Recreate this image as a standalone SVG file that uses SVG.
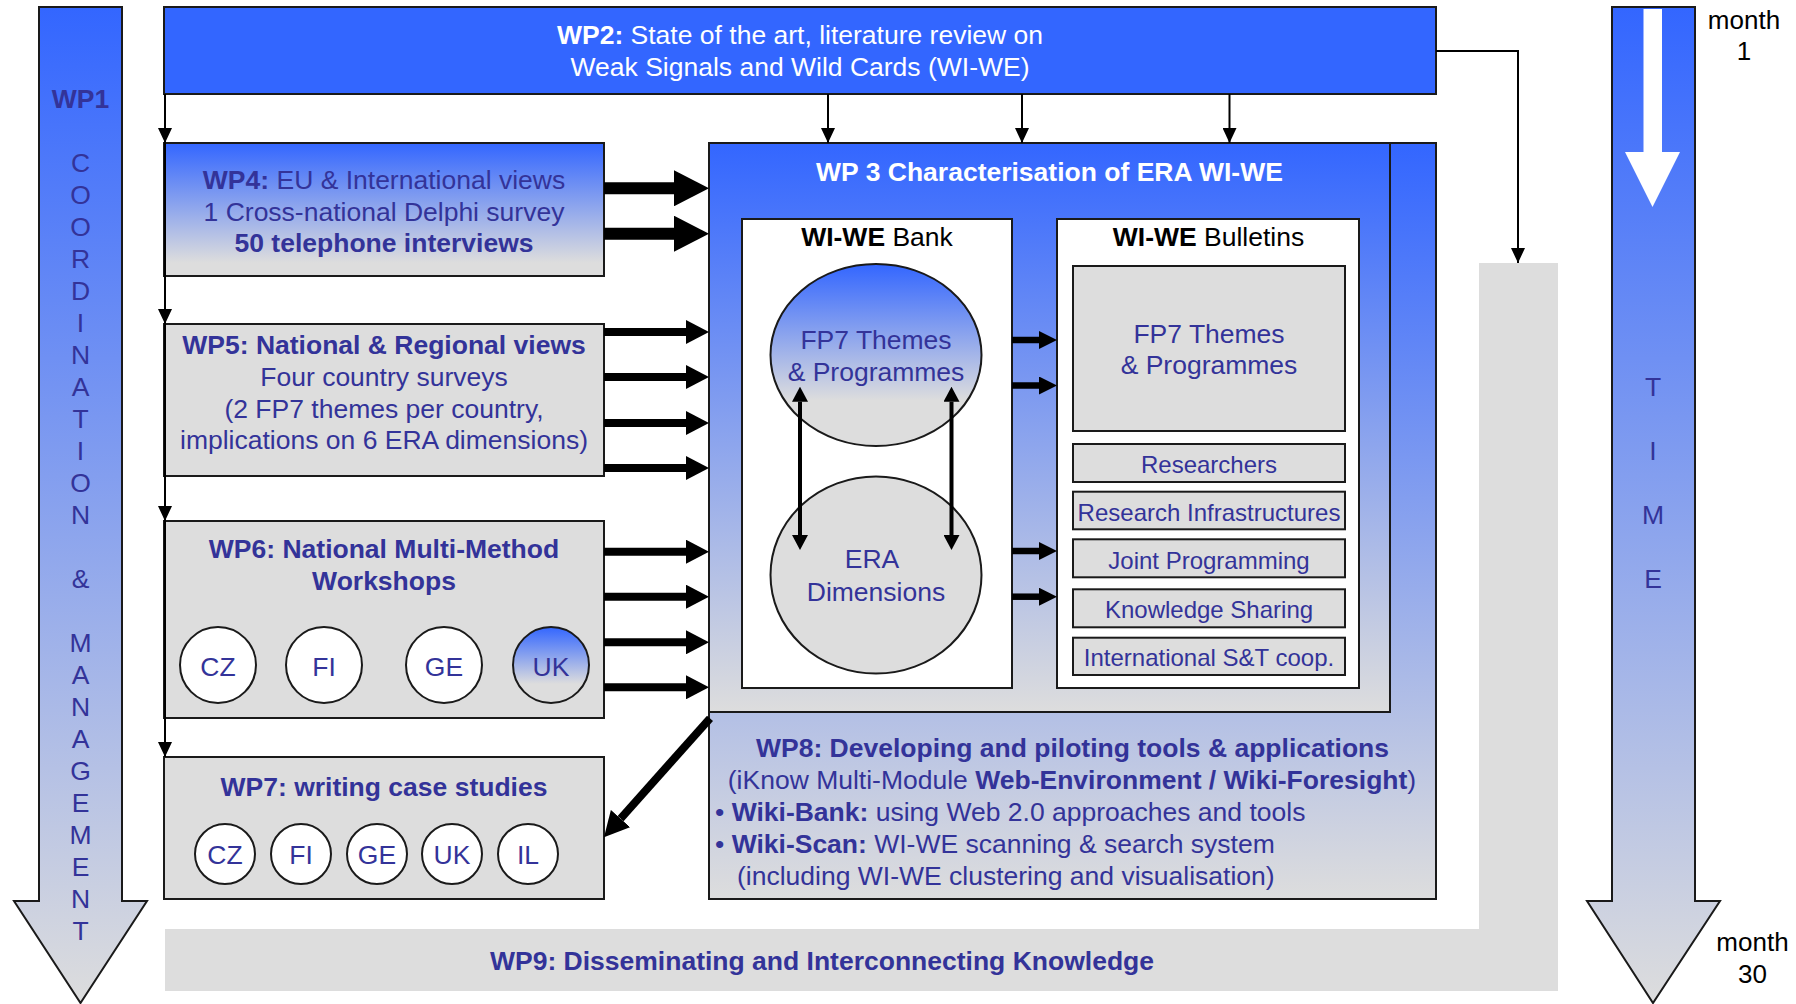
<svg xmlns="http://www.w3.org/2000/svg" width="1796" height="1004" viewBox="0 0 1796 1004">
<style>
.t{font-family:"Liberation Sans",Arial,sans-serif;font-size:26.5px;fill:#333399;text-anchor:middle}
.s{font-size:24px}
.l{text-anchor:start}
.b{font-weight:bold}
.w{fill:#ffffff}
.k{fill:#000000}
.box{stroke:#1a1a1a;stroke-width:2}
.grey{fill:#DDDDDD}
.thin{stroke:#000;stroke-width:2;fill:none}
</style>
<defs>
<linearGradient id="gTall" gradientUnits="userSpaceOnUse" x1="0" y1="7" x2="0" y2="1003">
<stop offset="0" stop-color="#3366FF"/><stop offset="1" stop-color="#DDDDDD"/>
</linearGradient>
<linearGradient id="gBox" x1="0" y1="0" x2="0" y2="1">
<stop offset="0" stop-color="#3366FF"/><stop offset="0.9" stop-color="#DDDDDD"/>
</linearGradient>
<linearGradient id="gBig" x1="0" y1="0" x2="0" y2="1">
<stop offset="0" stop-color="#3366FF"/><stop offset="1" stop-color="#DDDDDD"/>
</linearGradient>
<linearGradient id="gOval" x1="0" y1="0" x2="0" y2="1">
<stop offset="0" stop-color="#3366FF"/><stop offset="0.75" stop-color="#DDDDDD"/>
</linearGradient>
<marker id="ah" markerUnits="userSpaceOnUse" markerWidth="15" markerHeight="14" viewBox="0 0 15 14" refX="15" refY="7" orient="auto">
<path d="M0,0 L15,7 L0,14 Z" fill="#000"/>
</marker>
<marker id="big" markerUnits="userSpaceOnUse" markerWidth="35" markerHeight="36" viewBox="0 0 35 36" refX="0" refY="18" orient="auto">
<path d="M0,0 L35,18 L0,36 Z" fill="#000"/>
</marker>
<marker id="med" markerUnits="userSpaceOnUse" markerWidth="23" markerHeight="24" viewBox="0 0 23 24" refX="0" refY="12" orient="auto">
<path d="M0,0 L23,12 L0,24 Z" fill="#000"/>
</marker>
<marker id="sm" markerUnits="userSpaceOnUse" markerWidth="18" markerHeight="18" viewBox="0 0 18 18" refX="0" refY="9" orient="auto">
<path d="M0,0 L18,9 L0,18 Z" fill="#000"/>
</marker>
<marker id="dbl" markerUnits="userSpaceOnUse" markerWidth="15" markerHeight="16" viewBox="0 0 15 16" refX="0" refY="8" orient="auto-start-reverse">
<path d="M0,0 L15,8 L0,16 Z" fill="#000"/>
</marker>
<marker id="diag" markerUnits="userSpaceOnUse" markerWidth="25" markerHeight="26" viewBox="0 0 25 26" refX="0" refY="13" orient="auto">
<path d="M0,0 L25,13 L0,26 Z" fill="#000"/>
</marker>
</defs>

<rect width="1796" height="1004" fill="#ffffff"/>

<g id="wp9">
<path class="grey" d="M165,929 H1479 V263 H1558 V991 H165 Z"/>
<text class="t b" x="822" y="970">WP9: Disseminating and Interconnecting Knowledge</text>
</g>

<g id="wp1">
<polygon points="39,7 122,7 122,901 147,901 80.5,1003 14,901 39,901" fill="url(#gTall)" class="box"/>
<text class="t b" x="80.5" y="108">WP1</text>
<text class="t" x="80.5" y="172">C</text>
<text class="t" x="80.5" y="204">O</text>
<text class="t" x="80.5" y="236">O</text>
<text class="t" x="80.5" y="268">R</text>
<text class="t" x="80.5" y="300">D</text>
<text class="t" x="80.5" y="332">I</text>
<text class="t" x="80.5" y="364">N</text>
<text class="t" x="80.5" y="396">A</text>
<text class="t" x="80.5" y="428">T</text>
<text class="t" x="80.5" y="460">I</text>
<text class="t" x="80.5" y="492">O</text>
<text class="t" x="80.5" y="524">N</text>
<text class="t" x="80.5" y="588">&amp;</text>
<text class="t" x="80.5" y="652">M</text>
<text class="t" x="80.5" y="684">A</text>
<text class="t" x="80.5" y="716">N</text>
<text class="t" x="80.5" y="748">A</text>
<text class="t" x="80.5" y="780">G</text>
<text class="t" x="80.5" y="812">E</text>
<text class="t" x="80.5" y="844">M</text>
<text class="t" x="80.5" y="876">E</text>
<text class="t" x="80.5" y="908">N</text>
<text class="t" x="80.5" y="940">T</text>
</g>

<g id="time">
<polygon points="1612,7 1695,7 1695,901 1720,901 1653,1003 1587,901 1612,901" fill="url(#gTall)" class="box"/>
<polygon points="1643.5,9 1662,9 1662,152 1680,152 1652.5,207 1625,152 1643.5,152" fill="#ffffff"/>
<text class="t" x="1653" y="396">T</text>
<text class="t" x="1653" y="460">I</text>
<text class="t" x="1653" y="524">M</text>
<text class="t" x="1653" y="588">E</text>
<text class="t k" x="1744" y="28.5" style="font-size:26px">month</text>
<text class="t k" x="1744" y="59.5" style="font-size:26px">1</text>
<text class="t k" x="1752.5" y="951" style="font-size:26px">month</text>
<text class="t k" x="1752.5" y="983" style="font-size:26px">30</text>
</g>

<g id="wp2">
<rect x="164" y="7" width="1272" height="87" fill="#3366FF" class="box"/>
<text class="t w" x="800" y="44"><tspan class="b">WP2:</tspan> State of the art, literature review on</text>
<text class="t w" x="800" y="76">Weak Signals and Wild Cards (WI-WE)</text>
</g>

<g id="wp8">
<rect x="709" y="143" width="727" height="756" fill="url(#gBig)" class="box"/>
<text class="t b" x="1072.5" y="756.5">WP8: Developing and piloting tools &amp; applications</text>
<text class="t" x="1072" y="788.5">(iKnow Multi-Module <tspan class="b">Web-Environment / Wiki-Foresight</tspan>)</text>
<text class="t l" x="715" y="820.5">• <tspan class="b">Wiki-Bank:</tspan> using Web 2.0 approaches and tools</text>
<text class="t l" x="715" y="852.5">• <tspan class="b">Wiki-Scan:</tspan> WI-WE scanning &amp; search system</text>
<text class="t l" x="737" y="884.5">(including WI-WE clustering and visualisation)</text>
</g>

<g id="wp3">
<rect x="709" y="143" width="681" height="569" fill="url(#gBig)" class="box"/>
<text class="t w b" x="1049.5" y="181">WP 3 Characterisation of ERA WI-WE</text>
</g>

<g id="bank">
<rect x="742" y="219" width="270" height="469" fill="#ffffff" class="box"/>
<text class="t k" x="877" y="246"><tspan class="b">WI-WE</tspan> Bank</text>
</g>
<g id="bank-fp7">
<ellipse cx="876" cy="355" rx="105.5" ry="91" fill="url(#gOval)" class="box"/>
<text class="t" x="876" y="349">FP7 Themes</text>
<text class="t" x="876" y="381">&amp; Programmes</text>
</g>
<g id="bank-era">
<ellipse cx="876" cy="575" rx="105.5" ry="98.5" fill="#DDDDDD" class="box"/>
<text class="t" x="872" y="568">ERA</text>
<text class="t" x="876" y="600.5">Dimensions</text>
</g>

<g id="bulletins">
<rect x="1057" y="219" width="302" height="469" fill="#ffffff" class="box"/>
<text class="t k" x="1208.5" y="246"><tspan class="b">WI-WE</tspan> Bulletins</text>
</g>
<g id="bul-fp7">
<rect x="1073" y="266" width="272" height="165" class="grey box"/>
<text class="t" x="1209" y="342.7">FP7 Themes</text>
<text class="t" x="1209" y="374.3">&amp; Programmes</text>
</g>
<g id="bul-res">
<rect x="1073" y="444" width="272" height="38" class="grey box"/>
<text class="t s" x="1209" y="472.7">Researchers</text>
</g>
<g id="bul-infra">
<rect x="1073" y="491.7" width="272" height="37.6" class="grey box"/>
<text class="t s" x="1209" y="521">Research Infrastructures</text>
</g>
<g id="bul-joint">
<rect x="1073" y="539.3" width="272" height="38" class="grey box"/>
<text class="t s" x="1209" y="568.7">Joint Programming</text>
</g>
<g id="bul-know">
<rect x="1073" y="589.3" width="272" height="38" class="grey box"/>
<text class="t s" x="1209" y="617.7">Knowledge Sharing</text>
</g>
<g id="bul-intl">
<rect x="1073" y="637.7" width="272" height="37.3" class="grey box"/>
<text class="t s" x="1209" y="666">International S&amp;T coop.</text>
</g>

<g id="wp4">
<rect x="164" y="143" width="440" height="133" fill="url(#gBox)" class="box"/>
<text class="t" x="384" y="188.5"><tspan class="b">WP4:</tspan> EU &amp; International views</text>
<text class="t" x="384" y="220.5">1 Cross-national Delphi survey</text>
<text class="t b" x="384" y="252.2">50 telephone interviews</text>
</g>

<g id="wp5">
<rect x="164" y="324" width="440" height="152" class="grey box"/>
<text class="t b" x="384" y="354.3">WP5: National &amp; Regional views</text>
<text class="t" x="384" y="386">Four country surveys</text>
<text class="t" x="384" y="417.7">(2 FP7 themes per country,</text>
<text class="t" x="384" y="449.3">implications on 6 ERA dimensions)</text>
</g>

<g id="wp6">
<rect x="164" y="521" width="440" height="197" class="grey box"/>
<text class="t b" x="384" y="558">WP6: National Multi-Method</text>
<text class="t b" x="384" y="589.5">Workshops</text>
<circle cx="218" cy="665" r="38" fill="#ffffff" class="box"/>
<text class="t" x="218" y="675.5">CZ</text>
<circle cx="324" cy="665" r="38" fill="#ffffff" class="box"/>
<text class="t" x="324" y="675.5">FI</text>
<circle cx="444" cy="665" r="38" fill="#ffffff" class="box"/>
<text class="t" x="444" y="675.5">GE</text>
<circle cx="551" cy="665" r="38" fill="url(#gOval)" class="box"/>
<text class="t" x="551" y="675.5">UK</text>
</g>

<g id="wp7">
<rect x="164" y="757" width="440" height="142" class="grey box"/>
<text class="t b" x="384" y="795.5">WP7: writing case studies</text>
<circle cx="225" cy="854" r="30" fill="#ffffff" class="box"/>
<text class="t" x="225" y="864">CZ</text>
<circle cx="301" cy="854" r="30" fill="#ffffff" class="box"/>
<text class="t" x="301" y="864">FI</text>
<circle cx="377" cy="854" r="30" fill="#ffffff" class="box"/>
<text class="t" x="377" y="864">GE</text>
<circle cx="452" cy="854" r="30" fill="#ffffff" class="box"/>
<text class="t" x="452" y="864">UK</text>
<circle cx="528" cy="854" r="30" fill="#ffffff" class="box"/>
<text class="t" x="528" y="864">IL</text>
</g>

<g id="connectors">
<path class="thin" d="M165,94 V143 V324 V521 V757" marker-mid="url(#ah)" marker-end="url(#ah)"/>
<path class="thin" d="M828,94 V143" marker-end="url(#ah)"/>
<path class="thin" d="M1022,94 V143" marker-end="url(#ah)"/>
<path class="thin" d="M1229.5,94 V143" marker-end="url(#ah)"/>
<path class="thin" d="M1436,51 H1518 V263" marker-end="url(#ah)"/>
<g stroke="#000" fill="none">
<path d="M604,188.3 H674" stroke-width="12" marker-end="url(#big)"/>
<path d="M604,233.7 H674" stroke-width="12" marker-end="url(#big)"/>
<path d="M604,332 H686" stroke-width="8" marker-end="url(#med)"/>
<path d="M604,377 H686" stroke-width="8" marker-end="url(#med)"/>
<path d="M604,423 H686" stroke-width="8" marker-end="url(#med)"/>
<path d="M604,468 H686" stroke-width="8" marker-end="url(#med)"/>
<path d="M604,551.7 H686" stroke-width="8" marker-end="url(#med)"/>
<path d="M604,596.7 H686" stroke-width="8" marker-end="url(#med)"/>
<path d="M604,642.3 H686" stroke-width="8" marker-end="url(#med)"/>
<path d="M604,687.3 H686" stroke-width="8" marker-end="url(#med)"/>
<path d="M1012,340 H1039" stroke-width="6.5" marker-end="url(#sm)"/>
<path d="M1012,385.5 H1039" stroke-width="6.5" marker-end="url(#sm)"/>
<path d="M1012,551 H1039" stroke-width="6.5" marker-end="url(#sm)"/>
<path d="M1012,596.7 H1039" stroke-width="6.5" marker-end="url(#sm)"/>
<path d="M800,401.7 V535" stroke-width="4" marker-start="url(#dbl)" marker-end="url(#dbl)"/>
<path d="M951.5,401.7 V535" stroke-width="4" marker-start="url(#dbl)" marker-end="url(#dbl)"/>
<path d="M710,718.3 L620.6,818.6" stroke-width="8" marker-end="url(#diag)"/>
</g>
</g>
</svg>
